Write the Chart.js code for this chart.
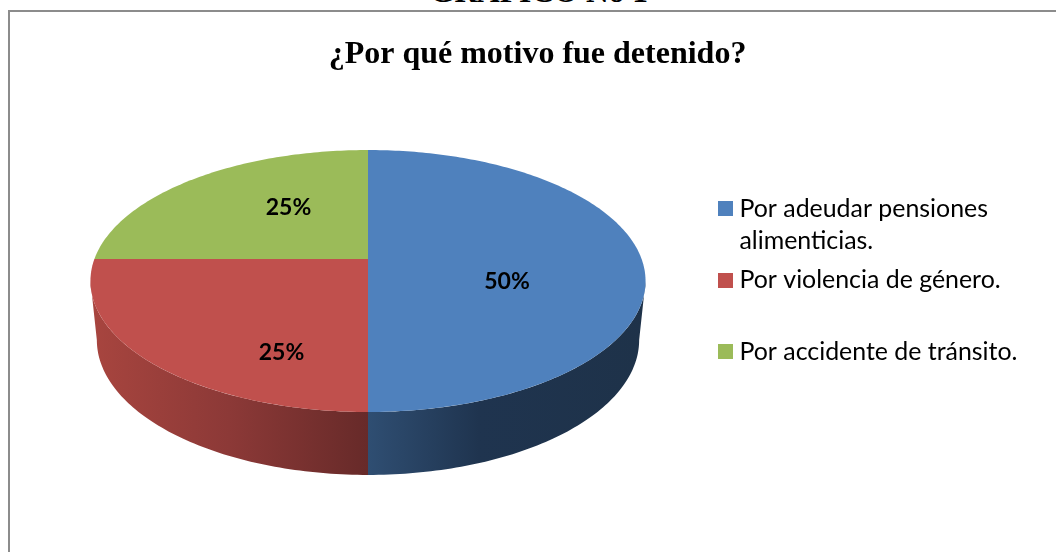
<!DOCTYPE html>
<html>
<head>
<meta charset="utf-8">
<title>¿Por qué motivo fue detenido?</title>
<script src="https://cdn.jsdelivr.net/npm/chart.js@4"></script>
<style>
  html, body { margin: 0; padding: 0; background: #fff; overflow: hidden; }
  #wrap { position: relative; width: 1056px; height: 552px; overflow: hidden; }
  #frame { position: absolute; left: 8px; top: 10px; width: 1100px; height: 600px; border: 2px solid #8c8c8c; }
  #heading { position: absolute; left: 430px; top: -26.5px; line-height: 36px; font-family: "Liberation Serif", serif; font-weight: bold; font-size: 31.4px; color: #000; white-space: nowrap; }
  canvas { position: absolute; left: 0; top: 0; }
</style>
</head>
<body>
<div id="wrap">
  <div id="frame"></div>
  <div id="heading">GRÁFICO No 1</div>
  <canvas id="pieChart" width="1056" height="552"></canvas>
</div>
<script>
const titleText = "¿Por qué motivo fue detenido?";
const categories = [
  ["Por adeudar pensiones", "alimenticias."],
  ["Por violencia de género.", ""],
  ["Por accidente de tránsito.", ""]
];
const values = [50, 25, 25];
const colors = ["#4f81bd", "#c0504d", "#9bbb59"];

// side wall shades, left to right
const wallColors = [
  ["#2f4e72", "#1f344f", "#1e3249"],
  ["#a8453f", "#8c3937", "#672a29"],
  ["#76933c", "#76933c", "#76933c"]
];

// look of the tilted pie on screen
const view = { x: 368, y: 259, a: 273.6, b: 127.3, k: 0.168, midY: 281, lowY: 340, shrinkX: 0.977, shrinkY: 1.03 };
const labelAt = [[507, 281.5], [281.5, 352.5], [288.5, 207.5]];

function project(angle) {
  const u = Math.cos(angle), v = Math.sin(angle), w = 1 - view.k * v;
  return [view.x + view.a * u / w, view.y + view.b * v / w];
}

function lower(p) {
  return [view.x + (p[0] - view.x) * view.shrinkX, view.lowY + (p[1] - view.midY) * view.shrinkY];
}

function arcPoints(start, end) {
  const pts = [];
  const n = Math.max(2, Math.ceil((end - start) * 60));
  for (let i = 0; i <= n; i++) pts.push(project(start + (end - start) * i / n));
  return pts;
}

function swatch(color) {
  const c = document.createElement("canvas");
  c.width = 15;
  c.height = 15;
  const g = c.getContext("2d");
  g.fillStyle = color;
  g.fillRect(0, 0, 15, 15);
  return c;
}

const tiltedPie = {
  id: "tiltedPie",
  afterLayout(chart) {
    // legend sits where the reference has it
    const lg = chart.legend;
    const h = lg.bottom - lg.top;
    lg.left = 717.5;
    lg.right = lg.left + 340;
    lg.top = 190;
    lg.bottom = lg.top + h;
  },
  beforeDatasetDraw(chart) {
    const ctx = chart.ctx;
    const arcs = chart.getDatasetMeta(0).data;
    const frontFrom = Math.asin(view.k), frontTo = Math.PI - frontFrom;

    arcs.forEach((el, i) => {
      // only the part of the rim that faces the viewer
      const from = Math.max(el.startAngle, frontFrom), to = Math.min(el.endAngle, frontTo);
      if (to <= from) return;
      const top = arcPoints(from, to);
      const xs = top.map(p => p[0]);
      const grad = ctx.createLinearGradient(Math.min(...xs), 0, Math.max(...xs), 0);
      wallColors[i].forEach((c, j) => grad.addColorStop(j === 1 ? (i === 0 ? 0.4 : 0.5) : j / 2, c));
      ctx.beginPath();
      top.forEach((p, j) => j ? ctx.lineTo(p[0], p[1]) : ctx.moveTo(p[0], p[1]));
      top.slice().reverse().forEach(p => {
        const q = lower(p);
        ctx.lineTo(q[0], q[1]);
      });
      ctx.closePath();
      ctx.fillStyle = grad;
      ctx.fill();
    });

    arcs.forEach((el, i) => {
      ctx.beginPath();
      ctx.moveTo(view.x, view.y);
      arcPoints(el.startAngle, el.endAngle).forEach(p => ctx.lineTo(p[0], p[1]));
      ctx.closePath();
      ctx.fillStyle = colors[i];
      ctx.fill();
    });
    return false;
  },
  afterDatasetsDraw(chart) {
    const ctx = chart.ctx;
    const total = values.reduce((a, b) => a + b, 0);
    ctx.save();
    ctx.font = "bold 23px Lato, sans-serif";
    ctx.fillStyle = "#000";
    ctx.textAlign = "center";
    ctx.textBaseline = "middle";
    values.forEach((v, i) => {
      ctx.fillText(Math.round(v / total * 100) + "%", labelAt[i][0], labelAt[i][1]);
    });
    ctx.restore();
  }
};

new Chart(document.getElementById("pieChart"), {
  type: "pie",
  data: {
    labels: categories,
    datasets: [{ data: values, backgroundColor: colors, borderWidth: 0 }]
  },
  options: {
    responsive: false,
    animation: false,
    layout: { padding: { left: 19 } },
    plugins: {
      tooltip: { enabled: false },
      title: {
        display: true,
        text: titleText,
        color: "#000",
        font: { family: "'Liberation Serif', serif", size: 32, weight: "bold" },
        padding: { top: 36, bottom: 10 }
      },
      legend: {
        position: "right",
        align: "start",
        labels: {
          color: "#000",
          font: { family: "Lato, sans-serif", size: 24.9, lineHeight: 1.305 },
          padding: 6.5,
          usePointStyle: true,
          pointStyleWidth: 3,
          generateLabels(chart) {
            return categories.map((text, i) => ({
              text: text,
              fillStyle: colors[i],
              strokeStyle: colors[i],
              lineWidth: 0,
              pointStyle: swatch(colors[i]),
              index: i
            }));
          }
        }
      }
    }
  },
  plugins: [tiltedPie]
});
</script>
</body>
</html>
